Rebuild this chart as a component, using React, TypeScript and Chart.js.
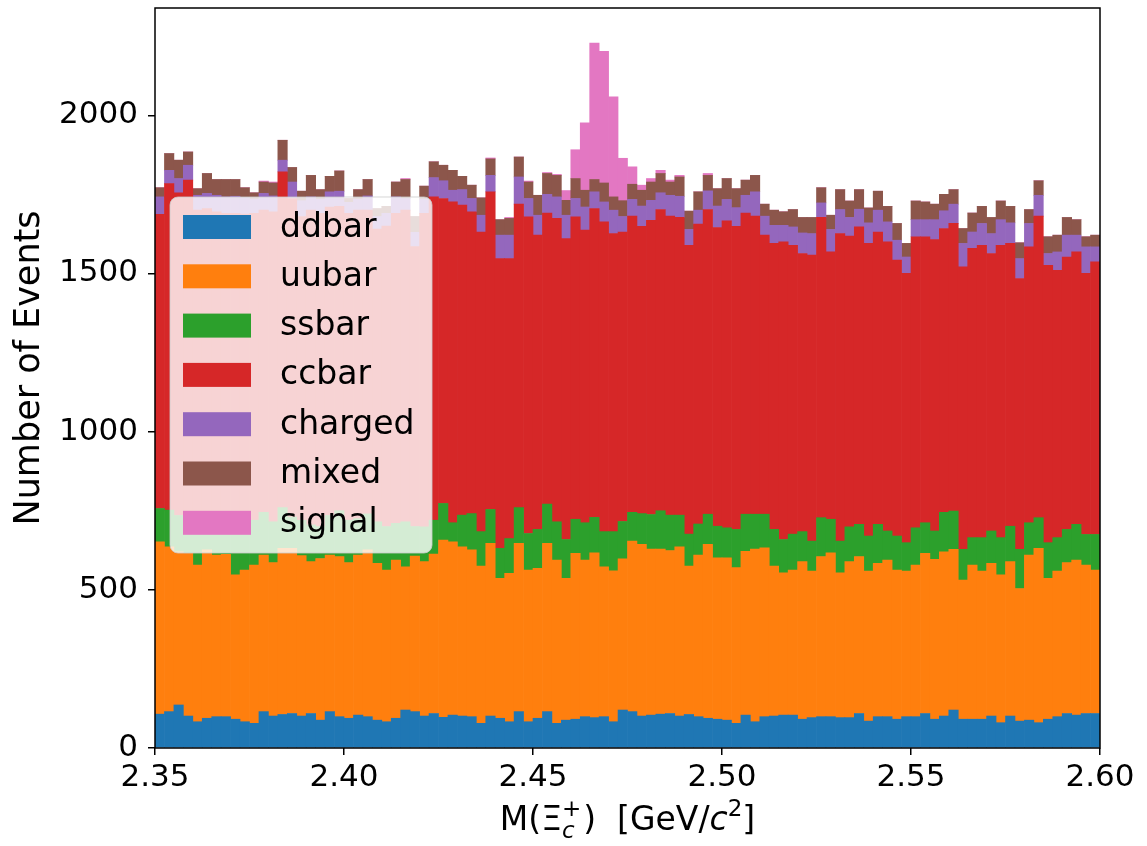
import React, { useEffect, useRef } from "react";
import { Chart, registerables } from "chart.js";

Chart.register(...registerables);

const X_MIN = 2.35;
const X_MAX = 2.6;
const N_BINS = 100;
const Y_MAX = 2339;
const xTickValues = [2.35, 2.4, 2.45, 2.5, 2.55, 2.6];
const yTickValues = [0, 500, 1000, 1500, 2000];

const seriesNames = ["ddbar", "uubar", "ssbar", "ccbar", "charged", "mixed", "signal"];
const seriesColors = ["#1f77b4", "#ff7f0e", "#2ca02c", "#d62728", "#9467bd", "#8c564b", "#e377c2"];

const ddbar = [
  107, 115, 136, 101, 83, 94, 99, 99, 91, 83,
  78, 115, 101, 106, 109, 101, 109, 88, 115, 99,
  94, 104, 99, 88, 83, 94, 120, 115, 101, 109,
  97, 104, 101, 99, 78, 101, 94, 83, 115, 83,
  94, 115, 78, 88, 91, 99, 96, 99, 83, 120,
  115, 101, 104, 107, 109, 101, 106, 99, 94, 91,
  88, 78, 104, 83, 99, 101, 104, 104, 91, 96,
  99, 99, 96, 96, 109, 85, 99, 99, 91, 99,
  99, 109, 91, 101, 120, 91, 91, 91, 101, 80,
  101, 85, 88, 80, 91, 99, 109, 104, 109, 109,
];
const uubar = [
  545, 521, 484, 514, 495, 532, 511, 513, 456, 479,
  500, 495, 485, 525, 522, 507, 480, 511, 495, 506,
  492, 506, 527, 496, 479, 500, 453, 492, 488, 504,
  560, 548, 535, 527, 497, 546, 442, 469, 532, 479,
  474, 532, 516, 448, 524, 495, 521, 474, 477, 478,
  539, 543, 525, 522, 515, 535, 469, 511, 550, 510,
  513, 492, 518, 546, 534, 474, 450, 458, 498, 463,
  506, 518, 458, 493, 496, 474, 485, 495, 471, 460,
  479, 506, 505, 519, 508, 440, 487, 468, 483, 467,
  488, 419, 522, 551, 445, 460, 477, 490, 469, 453,
];
const ssbar = [
  105, 116, 115, 105, 127, 99, 105, 128, 153, 148,
  142, 135, 129, 129, 99, 112, 116, 101, 125, 145,
  134, 115, 114, 131, 138, 116, 142, 93, 110, 107,
  116, 60, 100, 115, 109, 107, 95, 110, 113, 116,
  123, 124, 121, 123, 108, 118, 112, 111, 124, 118,
  91, 97, 109, 121, 112, 100, 101, 98, 95, 100,
  95, 121, 117, 110, 106, 116, 105, 114, 95, 95,
  123, 106, 100, 110, 102, 111, 123, 92, 108, 90,
  118, 97, 90, 125, 121, 97, 87, 106, 102, 118,
  112, 124, 102, 97, 113, 106, 105, 113, 97, 113,
];
const ccbar = [
  930, 1032, 1020, 1075, 995, 980, 980, 950, 990, 978,
  970, 955, 980, 1061, 1007, 960, 995, 990, 975, 962,
  970, 975, 960, 925, 950, 980, 985, 885, 991, 1022,
  964, 1014, 980, 954, 947, 1004, 916, 885, 959, 1001,
  930, 920, 959, 951, 956, 925, 976, 979, 942, 915,
  936, 908, 930, 952, 945, 941, 913, 948, 963, 944,
  970, 958, 952, 942, 882, 904, 941, 913, 879, 904,
  949, 845, 972, 919, 940, 925, 924, 914, 872, 851,
  920, 904, 921, 897, 909, 893, 914, 924, 877, 924,
  894, 856, 872, 953, 877, 845, 861, 861, 825, 862,
];
const charged = [
  55, 42, 45, 47, 47, 48, 52, 52, 54, 52,
  45, 53, 50, 37, 52, 50, 42, 45, 48, 48,
  35, 35, 45, 40, 40, 52, 37, 45, 45, 61,
  56, 37, 49, 42, 53, 52, 74, 74, 86, 58,
  63, 59, 68, 74, 58, 73, 53, 63, 74, 49,
  53, 64, 63, 53, 66, 67, 50, 44, 59, 68,
  68, 59, 56, 77, 60, 57, 52, 58, 65, 68,
  46, 71, 76, 59, 56, 65, 69, 63, 63, 52,
  54, 54, 63, 56, 61, 74, 52, 69, 63, 81,
  65, 63, 74, 66, 37, 58, 69, 53, 84, 47,
];
const mixed = [
  29, 53, 58, 42, 21, 63, 50, 55, 53, 31,
  20, 36, 41, 63, 46, 30, 68, 30, 49, 64,
  12, 30, 52, 25, 22, 47, 60, 50, 41, 50,
  49, 63, 42, 42, 55, 52, 49, 53, 63, 52,
  63, 66, 68, 47, 63, 53, 39, 60, 42, 50,
  48, 50, 58, 61, 42, 61, 58, 58, 49, 55,
  66, 60, 48, 52, 38, 48, 43, 55, 49, 51,
  48, 45, 63, 52, 62, 47, 60, 49, 53, 43,
  59, 56, 49, 52, 46, 47, 60, 54, 51, 59,
  52, 50, 44, 46, 53, 53, 56, 49, 32, 37,
];
const signal = [
  0, 0, 0, 0, 0, 0, 0, 0, 0, 0,
  0, 3, 3, 0, 0, 0, 0, 0, 0, 0,
  0, 0, 0, 0, 0, 0, 3, 0, 0, 0,
  0, 0, 0, 0, 0, 3, 0, 3, 0, 3,
  0, 3, 3, 31, 91, 213, 431, 416, 316, 134,
  55, 16, 11, 10, 6, 5, 0, 0, 6, 0,
  0, 0, 0, 0, 0, 0, 0, 0, 0, 0,
  0, 0, 0, 0, 0, 0, 0, 0, 0, 0,
  0, 0, 0, 0, 0, 0, 0, 0, 0, 0,
  0, 0, 0, 0, 0, 0, 0, 0, 0, 0,
];

const seriesValues = [ddbar, uubar, ssbar, ccbar, charged, mixed, signal];

const FONT = '"DejaVu Sans", sans-serif';

const binWidth = (X_MAX - X_MIN) / N_BINS;
const binCenters = Array.from({ length: N_BINS }, (_, i) => X_MIN + (i + 0.5) * binWidth);

const legendPlugin = {
  id: "mplLegend",
  afterDatasetsDraw(chart: any) {
    const { ctx, chartArea } = chart;
    const x0 = chartArea.left + 15;
    const y0 = chartArea.top + 189;
    const w = 262;
    const h = 356;
    const r = 8;
    ctx.save();
    ctx.beginPath();
    ctx.moveTo(x0 + r, y0);
    ctx.lineTo(x0 + w - r, y0);
    ctx.arcTo(x0 + w, y0, x0 + w, y0 + r, r);
    ctx.lineTo(x0 + w, y0 + h - r);
    ctx.arcTo(x0 + w, y0 + h, x0 + w - r, y0 + h, r);
    ctx.lineTo(x0 + r, y0 + h);
    ctx.arcTo(x0, y0 + h, x0, y0 + h - r, r);
    ctx.lineTo(x0, y0 + r);
    ctx.arcTo(x0, y0, x0 + r, y0, r);
    ctx.closePath();
    ctx.fillStyle = "rgba(255,255,255,0.8)";
    ctx.fill();
    ctx.strokeStyle = "rgba(204,204,204,0.8)";
    ctx.lineWidth = 1;
    ctx.stroke();
    chart.data.datasets.forEach((ds: any, i: number) => {
      const cy = y0 + 31 + i * 49.3;
      ctx.fillStyle = ds.backgroundColor;
      ctx.fillRect(x0 + 13, cy - 13, 68, 24);
      ctx.fillStyle = "#000";
      ctx.font = `33px ${FONT}`;
      ctx.textAlign = "left";
      ctx.textBaseline = "middle";
      ctx.fillText(ds.label, x0 + 110, cy);
    });
    ctx.restore();
  },
};

const framePlugin = {
  id: "mplFrame",
  afterDraw(chart: any) {
    const { ctx, chartArea } = chart;
    ctx.save();
    ctx.strokeStyle = "#000";
    ctx.lineWidth = 1.5;
    ctx.strokeRect(chartArea.left, chartArea.top, chartArea.right - chartArea.left, chartArea.bottom - chartArea.top);

    // y axis title
    ctx.fillStyle = "#000";
    ctx.font = `35px ${FONT}`;
    ctx.textAlign = "center";
    ctx.textBaseline = "middle";
    ctx.translate(30, 368);
    ctx.rotate(-Math.PI / 2);
    ctx.fillText("Number of Events", 0, 0);
    ctx.restore();

    // x axis title with sub/superscripts
    ctx.save();
    const F = 33;
    const S = Math.round(F * 0.7);
    const base = 830;
    const normal = `${F}px ${FONT}`;
    const italic = `italic ${F}px ${FONT}`;
    const small = `${S}px ${FONT}`;
    const smallItalic = `italic ${S}px ${FONT}`;
    const measure = (t: string, f: string) => {
      ctx.font = f;
      return ctx.measureText(t).width;
    };
    const p1 = "M(\u039E";
    const p3 = ")  [GeV/";
    const p5 = "]";
    const wSub = Math.max(measure("c", smallItalic), measure("+", small));
    const total =
      measure(p1, normal) + wSub + 2 + measure(p3, normal) + measure("c", italic) + measure("2", small) + measure(p5, normal);
    let x = (chartArea.left + chartArea.right) / 2 - total / 2;
    ctx.fillStyle = "#000";
    ctx.textAlign = "left";
    ctx.textBaseline = "alphabetic";
    ctx.font = normal;
    ctx.fillText(p1, x, base);
    x += measure(p1, normal);
    ctx.font = smallItalic;
    ctx.fillText("c", x, base + 8);
    ctx.font = small;
    ctx.fillText("+", x, base - 14);
    x += wSub + 2;
    ctx.font = normal;
    ctx.fillText(p3, x, base);
    x += measure(p3, normal);
    ctx.font = italic;
    ctx.fillText("c", x, base);
    x += measure("c", italic);
    ctx.font = small;
    ctx.fillText("2", x, base - 14);
    x += measure("2", small);
    ctx.font = normal;
    ctx.fillText(p5, x, base);
    ctx.restore();
  },
};

export default function App() {
  const canvasRef = useRef<HTMLCanvasElement | null>(null);

  useEffect(() => {
    if (!canvasRef.current) return;
    const datasets = seriesNames.map((name, k) => ({
      label: name,
      data: seriesValues[k].map((v, i) => ({ x: binCenters[i], y: v })),
      backgroundColor: seriesColors[k],
      borderWidth: 0,
      barPercentage: 1,
      categoryPercentage: 1,
    }));
    const chart = new Chart(canvasRef.current, {
      type: "bar",
      data: { datasets },
      options: {
        animation: false,
        responsive: true,
        maintainAspectRatio: false,
        layout: { padding: { left: 0, right: 47, top: 8, bottom: 0 } },
        plugins: { legend: { display: false }, tooltip: { enabled: false } },
        scales: {
          x: {
            type: "linear",
            min: X_MIN,
            max: X_MAX,
            stacked: true,
            offset: false,
            afterBuildTicks: (s: any) => {
              s.ticks = xTickValues.map((v) => ({ value: v }));
            },
            afterFit: (s: any) => {
              s.height = 98;
              s.paddingLeft = 0;
              s.paddingRight = 0;
              s.paddingTop = 0;
              s.paddingBottom = 0;
            },
            grid: {
              display: true,
              offset: false,
              drawOnChartArea: false,
              drawTicks: true,
              tickLength: 7,
              color: "#000",
              lineWidth: 1.5,
            },
            border: { display: false },
            ticks: {
              callback: (v: any) => Number(v).toFixed(2),
              font: { family: FONT, size: 31 },
              color: "#000",
              padding: 4,
              maxRotation: 0,
              autoSkip: false,
            },
          },
          y: {
            type: "linear",
            min: 0,
            max: Y_MAX,
            stacked: true,
            afterBuildTicks: (s: any) => {
              s.ticks = yTickValues.map((v) => ({ value: v }));
            },
            afterFit: (s: any) => {
              s.width = 155;
              s.paddingLeft = 0;
              s.paddingRight = 0;
              s.paddingTop = 0;
              s.paddingBottom = 0;
            },
            grid: {
              display: true,
              drawOnChartArea: false,
              drawTicks: true,
              tickLength: 7,
              color: "#000",
              lineWidth: 1.5,
            },
            border: { display: false },
            ticks: {
              callback: (v: any) => String(v),
              font: { family: FONT, size: 31 },
              color: "#000",
              padding: 10,
            },
          },
        },
      } as any,
      plugins: [legendPlugin, framePlugin],
    });
    return () => chart.destroy();
  }, []);

  return (
    <div style={{ position: "fixed", left: 0, top: 0, width: 1147, height: 846, background: "#fff" }}>
      <canvas ref={canvasRef} />
    </div>
  );
}
